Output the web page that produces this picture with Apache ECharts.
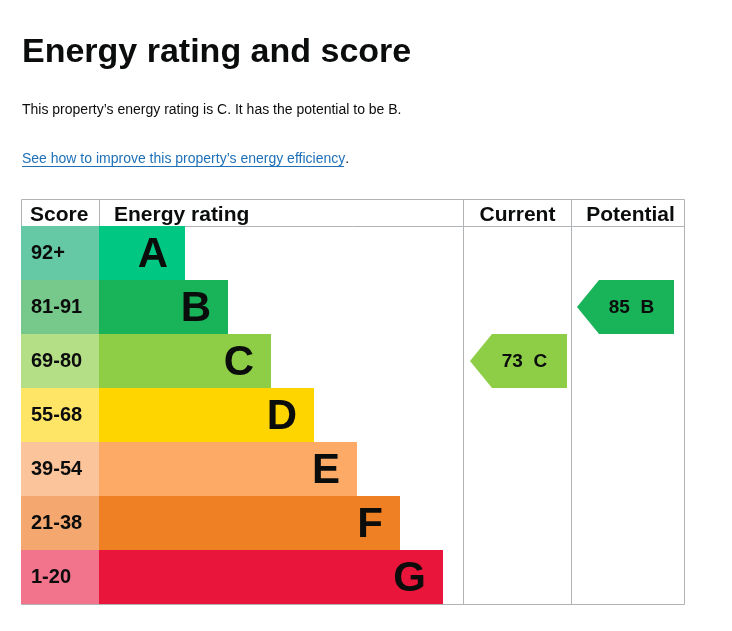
<!DOCTYPE html>
<html>
<head>
<meta charset="utf-8">
<script src="https://cdn.jsdelivr.net/npm/echarts@6/dist/echarts.min.js"></script>
<style>
  html, body { margin: 0; padding: 0; background: #fff; }
  #main { width: 732px; height: 631px; }
</style>
</head>
<body>
<div id="main"></div>
<script>
// band data
var ratings = ['A', 'B', 'C', 'D', 'E', 'F', 'G'];
var scoreRanges = ['92+', '81-91', '69-80', '55-68', '39-54', '21-38', '1-20'];
var barLengths = [2, 3, 4, 5, 6, 7, 8];
var bandColors = ['#00c781', '#19b459', '#8dce46', '#ffd500', '#fcaa65', '#ef8023', '#e9153b'];
var scoreColors = ['#66c9a6', '#76c98a', '#b5df87', '#ffe566', '#fcc49a', '#f4a870', '#f2748c'];

var currentScore = 73, currentRating = 'C';
var potentialScore = 85, potentialRating = 'B';

var FONT = '"Liberation Sans", Arial, Helvetica, sans-serif';
var INK = '#0b0c0c';
var LINE = '#b1b4b6';
var arrowPath = 'path://M0,27L22,0L97,0L97,54L22,54Z';

var chart = echarts.init(document.getElementById('main'));

function catAxis(i) {
  return { type: 'category', gridIndex: i, data: ratings, inverse: true, show: false };
}
function valAxis(i, max) {
  return { type: 'value', gridIndex: i, min: 0, max: max, show: false };
}

var option = {
  animation: false,
  backgroundColor: '#fff',
  textStyle: { fontFamily: FONT },
  grid: [
    { left: 21, top: 226, width: 78, height: 378 },   // score column
    { left: 99, top: 226, width: 344, height: 378 },  // rating bars
    { left: 463, top: 226, width: 108, height: 378 }, // current
    { left: 571, top: 226, width: 113, height: 378 }  // potential
  ],
  xAxis: [valAxis(0, 1), valAxis(1, 8), valAxis(2, 1), valAxis(3, 1)],
  yAxis: [catAxis(0), catAxis(1), catAxis(2), catAxis(3)],
  graphic: [
    { type: 'text', left: 22, top: 36, z: 5,
      style: { text: 'Energy rating and score', font: 'bold 34px ' + FONT, fill: INK } },
    { type: 'text', left: 22, top: 103, z: 5,
      style: { text: 'This property\u2019s energy rating is C. It has the potential to be B.', font: '14px ' + FONT, fill: INK } },
    { type: 'text', left: 22, top: 152, z: 5,
      style: {
        text: '{a|See how to improve this property\u2019s energy efficiency}{b|.}',
        font: '14px ' + FONT,
        rich: { a: { fill: '#1d70b8', font: '14px ' + FONT }, b: { fill: INK, font: '14px ' + FONT } }
      } },
    { type: 'line', z: 5, shape: { x1: 22, y1: 166.5, x2: 344, y2: 166.5 }, style: { stroke: '#1d70b8', lineWidth: 1 } },

    // table frame
    { type: 'rect', z: 1, shape: { x: 21.5, y: 199.5, width: 663, height: 405 }, style: { fill: 'none', stroke: LINE, lineWidth: 1 } },
    { type: 'line', z: 1, shape: { x1: 21, y1: 226.5, x2: 684, y2: 226.5 }, style: { stroke: LINE, lineWidth: 1 } },
    { type: 'line', z: 1, shape: { x1: 99.5, y1: 199, x2: 99.5, y2: 226 }, style: { stroke: LINE, lineWidth: 1 } },
    { type: 'line', z: 1, shape: { x1: 463.5, y1: 199, x2: 463.5, y2: 605 }, style: { stroke: LINE, lineWidth: 1 } },
    { type: 'line', z: 1, shape: { x1: 571.5, y1: 199, x2: 571.5, y2: 605 }, style: { stroke: LINE, lineWidth: 1 } },

    // headers
    { type: 'text', z: 5, style: { x: 30, y: 215, text: 'Score', font: 'bold 21px ' + FONT, fill: INK, textVerticalAlign: 'middle' } },
    { type: 'text', z: 5, style: { x: 114, y: 215, text: 'Energy rating', font: 'bold 21px ' + FONT, fill: INK, textVerticalAlign: 'middle' } },
    { type: 'text', z: 5, style: { x: 517.5, y: 215, text: 'Current', font: 'bold 21px ' + FONT, fill: INK, textAlign: 'center', textVerticalAlign: 'middle' } },
    { type: 'text', z: 5, style: { x: 630.5, y: 215, text: 'Potential', font: 'bold 21px ' + FONT, fill: INK, textAlign: 'center', textVerticalAlign: 'middle' } }
  ],
  series: [
    {
      type: 'bar', xAxisIndex: 0, yAxisIndex: 0,
      barWidth: '100%', barCategoryGap: '0%',
      data: scoreRanges.map(function (s, i) {
        return { value: 1, name: s, itemStyle: { color: scoreColors[i] } };
      }),
      label: {
        show: true, position: 'insideLeft', distance: 10,
        formatter: function (p) { return p.name; },
        fontFamily: FONT, fontWeight: 'bold', fontSize: 20, color: INK
      }
    },
    {
      type: 'bar', xAxisIndex: 1, yAxisIndex: 1,
      barWidth: '100%', barCategoryGap: '0%',
      data: barLengths.map(function (v, i) {
        return { value: v, name: ratings[i], itemStyle: { color: bandColors[i] } };
      }),
      label: {
        show: true, position: 'insideRight', distance: 17, offset: [0, 2],
        formatter: function (p) { return p.name; },
        fontFamily: FONT, fontWeight: 'bold', fontSize: 42, color: INK
      }
    },
    {
      type: 'scatter', xAxisIndex: 2, yAxisIndex: 2,
      symbol: arrowPath, symbolSize: [97, 54], symbolKeepAspect: false,
      symbolOffset: [1.5, 0],
      itemStyle: { color: bandColors[ratings.indexOf(currentRating)], opacity: 1 },
      data: [[0.5, currentRating]],
      label: {
        show: true, position: 'inside', offset: [6, 1],
        formatter: currentScore + '  ' + currentRating,
        fontFamily: FONT, fontWeight: 'bold', fontSize: 19, color: INK
      }
    },
    {
      type: 'scatter', xAxisIndex: 3, yAxisIndex: 3,
      symbol: arrowPath, symbolSize: [97, 54], symbolKeepAspect: false,
      symbolOffset: [-2, 0],
      itemStyle: { color: bandColors[ratings.indexOf(potentialRating)], opacity: 1 },
      data: [[0.5, potentialRating]],
      label: {
        show: true, position: 'inside', offset: [6, 1],
        formatter: potentialScore + '  ' + potentialRating,
        fontFamily: FONT, fontWeight: 'bold', fontSize: 19, color: INK
      }
    }
  ]
};

chart.setOption(option);
</script>
</body>
</html>
